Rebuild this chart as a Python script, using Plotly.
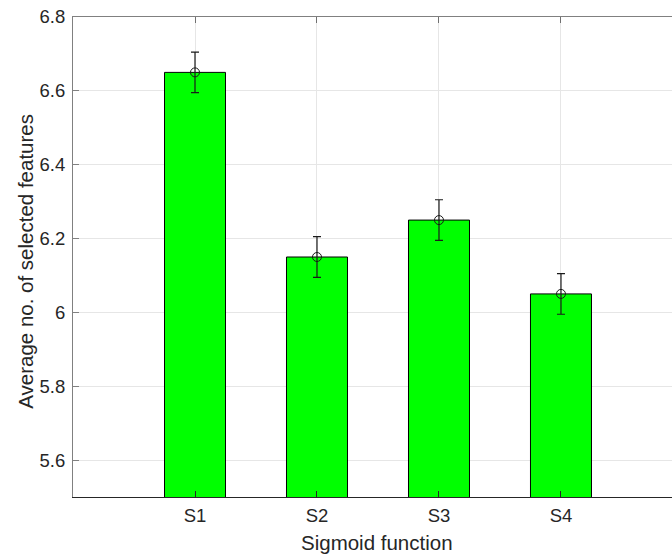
import plotly.graph_objects as go

# Sigmoid transfer functions and the average number of selected features
categories = ["S1", "S2", "S3", "S4"]
positions = [1, 2, 3, 4]
mean_features = [6.65, 6.15, 6.25, 6.05]
std_features = [0.055, 0.055, 0.055, 0.055]
y_ticks = [5.6, 5.8, 6.0, 6.2, 6.4, 6.6, 6.8]
y_tick_text = ["5.6", "5.8", "6", "6.2", "6.4", "6.6", "6.8"]
x_title = "Sigmoid function"
y_title = "Average no. of selected features"

font_family = "Liberation Sans, Arial, Helvetica, sans-serif"
text_color = "#262626"
grid_color = "#e6e6e6"

fig = go.Figure()

fig.add_trace(go.Bar(
    x=positions,
    y=mean_features,
    width=0.5,
    marker=dict(color="#00ff00", line=dict(color="#000000", width=1)),
    showlegend=False,
    hoverinfo="skip",
))

fig.add_trace(go.Scatter(
    x=positions,
    y=mean_features,
    mode="markers",
    marker=dict(symbol="circle-open", size=9, color="#1a1a1a", line=dict(width=1)),
    error_y=dict(type="data", array=std_features, visible=True,
                 color="#1a1a1a", thickness=1.2, width=4),
    showlegend=False,
))

# invisible trace on the top axis so the box ticks are drawn there
fig.add_trace(go.Scatter(x=positions, y=mean_features, xaxis="x2",
                         mode="markers", marker=dict(opacity=0),
                         showlegend=False, hoverinfo="skip"))

fig.update_layout(
    width=672,
    height=558,
    margin=dict(l=73, r=0, t=17, b=61, autoexpand=False),
    paper_bgcolor="white",
    plot_bgcolor="white",
    font=dict(family=font_family, color=text_color),
    xaxis=dict(
        range=[0.0, 4.91],
        tickvals=positions,
        ticktext=categories,
        ticks="inside",
        ticklen=6,
        tickcolor=text_color,
        showline=True,
        linecolor=text_color,
        linewidth=1,
        showgrid=True,
        gridcolor=grid_color,
        zeroline=False,
        automargin=False,
        ticklabelstandoff=2,
        tickfont=dict(size=18.5, color=text_color),
    ),
    xaxis2=dict(
        overlaying="x",
        side="top",
        matches="x",
        tickvals=positions,
        showticklabels=False,
        ticks="inside",
        ticklen=6,
        tickcolor="#707070",
        showline=True,
        linecolor="#808080",
        linewidth=1,
        showgrid=False,
        zeroline=False,
    ),
    yaxis=dict(
        range=[5.5, 6.8],
        tickvals=y_ticks,
        ticktext=y_tick_text,
        ticks="inside",
        ticklen=6,
        tickcolor="#808080",
        showline=True,
        linecolor="#808080",
        linewidth=1,
        showgrid=True,
        gridcolor=grid_color,
        zeroline=False,
        automargin=False,
        ticklabelstandoff=3,
        tickfont=dict(size=18.5, color=text_color),
    ),
)

# axis titles placed as annotations relative to the plotting area
fig.add_annotation(
    text=x_title, xref="paper", yref="paper", x=0.507, y=0,
    xanchor="center", yanchor="middle", yshift=-45.5, showarrow=False,
    font=dict(size=20.5, color=text_color, family=font_family),
)
fig.add_annotation(
    text=y_title, xref="paper", yref="paper", x=0, y=0.49,
    xanchor="center", yanchor="middle", xshift=-47, textangle=-90,
    showarrow=False,
    font=dict(size=20.5, color=text_color, family=font_family),
)

fig.write_html("out.html")
